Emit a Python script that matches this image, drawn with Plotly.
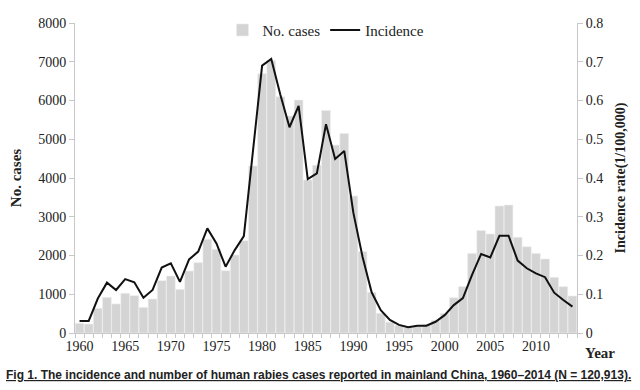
import plotly.graph_objects as go

years = list(range(1960, 2015))
cases = [250, 232, 636, 920, 750, 1024, 963, 662, 877, 1351,
         1471, 1127, 1600, 1815, 2417, 2160, 1609, 2013, 2383, 4310,
         6690, 7030, 6100, 5600, 6010, 3950, 4330, 5740, 4850, 5150,
         3535, 2100, 1050, 508, 280, 200, 163, 170, 220, 327,
         508, 911, 1200, 2055, 2645, 2555, 3277, 3303, 2468, 2228,
         2055, 1910, 1437, 1195, 955]
incidence = [0.031, 0.031, 0.089, 0.130, 0.111, 0.139, 0.131, 0.091, 0.111, 0.169,
             0.180, 0.132, 0.190, 0.210, 0.270, 0.231, 0.171, 0.214, 0.250, 0.470,
             0.690, 0.707, 0.615, 0.531, 0.586, 0.397, 0.412, 0.539, 0.449, 0.470,
             0.310, 0.197, 0.105, 0.059, 0.034, 0.021, 0.015, 0.019, 0.019, 0.029,
             0.046, 0.072, 0.090, 0.150, 0.204, 0.195, 0.251, 0.251, 0.187, 0.167,
             0.154, 0.144, 0.104, 0.085, 0.068]
xticks = [1960, 1965, 1970, 1975, 1980, 1985, 1990, 1995, 2000, 2005, 2010]
y2ticks = [0, 0.1, 0.2, 0.3, 0.4, 0.5, 0.6, 0.7, 0.8]
y2labels = ["0", "0.1", "0.2", "0.3", "0.4", "0.5", "0.6", "0.7", "0.8"]

serif = "Liberation Serif, Times New Roman, serif"
axis_col = "#c8c8c8"

fig = go.Figure()
fig.add_trace(go.Bar(x=years, y=cases, name="No. cases",
                     marker=dict(color="#d4d4d4", line=dict(color="#eeeeee", width=0.6)),
                     yaxis="y"))
fig.add_trace(go.Scatter(x=years, y=incidence, name="Incidence", mode="lines",
                         line=dict(color="#111111", width=2), yaxis="y2"))

fig.update_layout(
    width=640, height=390,
    margin=dict(l=75, r=63, t=23, b=57),
    paper_bgcolor="white", plot_bgcolor="white",
    font=dict(family=serif, size=14, color="#222222"),
    bargap=0.04,
    showlegend=True,
    legend=dict(orientation="h", x=0.5, xanchor="center", y=1.03, yanchor="top",
                font=dict(family=serif, size=15, color="#222222"),
                bgcolor="rgba(255,255,255,0)", traceorder="normal"),
    xaxis=dict(range=[1959.5, 2014.5], tickvals=xticks, ticks="", ticklen=0,
               showline=True, linecolor=axis_col, linewidth=1, showgrid=False,
               zeroline=False, tickfont=dict(family=serif, size=14),
               minor=dict(ticks="outside", ticklen=4, tick0=1959.5, dtick=1,
                          tickcolor=axis_col, showgrid=False)),
    yaxis=dict(range=[0, 8000], dtick=1000, showline=True, linecolor=axis_col,
               linewidth=1, ticks="outside", ticklen=5, tickcolor=axis_col,
               showgrid=False, zeroline=False, tickfont=dict(family=serif, size=14),
               title=dict(text="<b>No. cases</b>", font=dict(family=serif, size=15),
                          standoff=12)),
    yaxis2=dict(range=[0, 0.8], tickvals=y2ticks, ticktext=y2labels,
                overlaying="y", side="right",
                showline=True, linecolor=axis_col, linewidth=1, ticks="outside",
                ticklen=5, tickcolor=axis_col, showgrid=False, zeroline=False,
                tickfont=dict(family=serif, size=14),
                title=dict(text="<b>Incidence rate(1/100,000)</b>",
                           font=dict(family=serif, size=14), standoff=12)),
)

fig.add_annotation(text="<b>Year</b>", xref="paper", yref="paper", x=1.045, y=-0.065,
                   xanchor="center", yanchor="middle", showarrow=False,
                   font=dict(family=serif, size=15, color="#222222"))
fig.add_annotation(text="<b><u>Fig 1. The incidence and number of human rabies cases reported in mainland China, 1960–2014 (N = 120,913).</u></b>",
                   xref="paper", yref="paper", x=0.485, y=-0.105,
                   xanchor="center", yanchor="top", showarrow=False,
                   font=dict(family="Liberation Sans, Arial, sans-serif",
                             size=12, color="#222222"))

fig.write_html("out.html", config={"displayModeBar": False},
               post_script="document.body.style.margin='0';")
